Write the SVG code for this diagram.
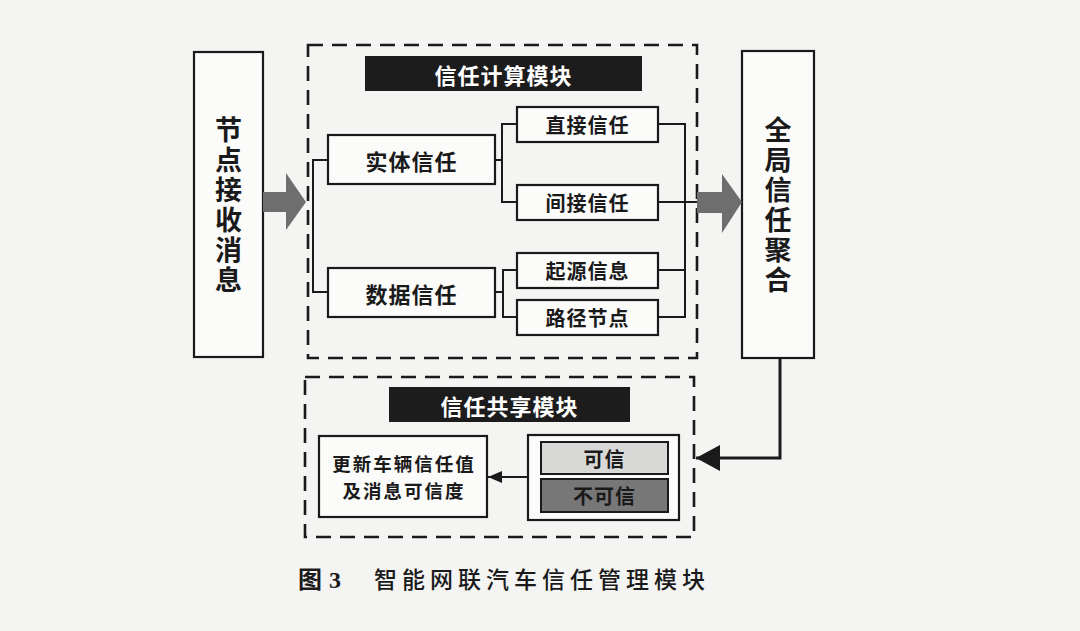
<svg xmlns="http://www.w3.org/2000/svg" width="1080" height="631" viewBox="0 0 1080 631">
<style>
.bg{fill:#f4f4f2}
.box{fill:#fbfbfa;stroke:#1a1a1a;stroke-width:2.2}
.dash{fill:none;stroke:#1a1a1a;stroke-width:2.6;stroke-dasharray:15 9}
.bar{fill:#1c1c1c}
.t{font-family:"Noto Sans CJK SC","Noto Sans",sans-serif;font-weight:700;fill:#1a1a1a;text-anchor:middle;dominant-baseline:central}
.tw{font-family:"Noto Sans CJK SC","Noto Sans",sans-serif;font-weight:700;fill:#ffffff;text-anchor:middle;dominant-baseline:central;font-size:22px;letter-spacing:1px}
.vert{font-family:"Noto Sans CJK SC","Noto Sans",sans-serif;font-weight:700;fill:#1a1a1a;text-anchor:middle;writing-mode:vertical-rl;font-size:27px;letter-spacing:3px}
.mid{font-size:22px;letter-spacing:1px}
.sm{font-size:20px;letter-spacing:1px}
.xs{font-size:18.5px;letter-spacing:2px}
.line{fill:none;stroke:#1a1a1a;stroke-width:2}
.garrow{fill:#6e6e6e}
</style>
<defs>
<marker id="bigHead" markerWidth="24" markerHeight="26" refX="24" refY="13" orient="auto" markerUnits="userSpaceOnUse" viewBox="0 0 24 26">
<path d="M0,0 L24,13 L0,26 Z" fill="#1a1a1a"/>
</marker>
<marker id="smHead" markerWidth="14" markerHeight="12" refX="14" refY="6" orient="auto" markerUnits="userSpaceOnUse" viewBox="0 0 14 12">
<path d="M0,0 L14,6 L0,12 Z" fill="#1a1a1a"/>
</marker>
</defs>
<rect class="bg" x="0" y="0" width="1080" height="631"/>

<g id="module-calc">
<rect class="dash" x="308" y="45" width="389" height="313"/>
<rect class="bar" x="365" y="56" width="277" height="35"/>
<text class="tw" x="503.5" y="73.5">信任计算模块</text>
</g>

<g id="module-share">
<rect class="dash" x="305" y="377" width="389" height="160"/>
<rect class="bar" x="389" y="387" width="241" height="35"/>
<text class="tw" x="509.5" y="404.5">信任共享模块</text>
</g>

<g id="node-receive">
<rect class="box" x="194" y="52" width="69" height="305"/>
<text class="vert" x="228.5" y="206">节点接收消息</text>
</g>

<g id="node-global">
<rect class="box" x="742" y="51" width="72" height="307"/>
<text class="vert" x="778" y="206">全局信任聚合</text>
</g>

<g id="node-entity">
<rect class="box" x="328" y="135" width="167" height="49"/>
<text class="t mid" x="411.5" y="159.5">实体信任</text>
</g>
<g id="node-data">
<rect class="box" x="328" y="268" width="167" height="49"/>
<text class="t mid" x="411.5" y="292.5">数据信任</text>
</g>
<g id="node-direct">
<rect class="box" x="517" y="107" width="141" height="35"/>
<text class="t sm" x="587.5" y="124.5">直接信任</text>
</g>
<g id="node-indirect">
<rect class="box" x="517" y="185" width="141" height="35"/>
<text class="t sm" x="587.5" y="202.5">间接信任</text>
</g>
<g id="node-origin">
<rect class="box" x="517" y="253" width="141" height="35"/>
<text class="t sm" x="587.5" y="270.5">起源信息</text>
</g>
<g id="node-path">
<rect class="box" x="517" y="300" width="141" height="35"/>
<text class="t sm" x="587.5" y="317.5">路径节点</text>
</g>

<g id="node-update">
<rect class="box" x="319" y="436" width="168" height="81"/>
<text class="t xs" x="404" y="463"><tspan x="404" y="463">更新车辆信任值</tspan><tspan x="404" y="490">及消息可信度</tspan></text>
</g>

<g id="node-result">
<rect class="box" x="528" y="435" width="151" height="85"/>
<rect x="541" y="442" width="127" height="32" fill="#d8d8d6" stroke="#1a1a1a" stroke-width="2"/>
<text class="t sm" x="604.5" y="458">可信</text>
<rect x="541" y="479" width="127" height="33" fill="#777777" stroke="#1a1a1a" stroke-width="2"/>
<text class="t sm" x="604.5" y="495.5">不可信</text>
</g>

<g id="connectors">
<path class="garrow" d="M263,192 H286 V173 L306,202 L286,230 V212 H263 Z"/>
<path class="garrow" d="M697,192 H722 V174 L742,202 L722,233 V213 H697 Z"/>
<path class="line" d="M328,160 H313 V292 H328"/>
<path class="line" d="M495,160 H502 M517,124 H502 V202 H517"/>
<path class="line" d="M495,292 H503 M517,270 H503 V317 H517"/>
<path class="line" d="M658,124 H685 V317 H658 M658,270 H685 M658,202 H697"/>
<path fill="none" stroke="#1a1a1a" stroke-width="3" d="M780,358 V458 H696" marker-end="url(#bigHead)"/>
<path class="line" d="M528,477 H488" marker-end="url(#smHead)"/>
</g>

<g id="caption">
<text x="298" y="588" font-family="'Noto Sans CJK SC',sans-serif" font-weight="700" font-size="24" fill="#1a1a1a">图</text>
<text x="329" y="588" font-family="'Liberation Serif',serif" font-weight="700" font-size="24" fill="#1a1a1a">3</text>
<text x="374" y="588" font-family="'Noto Sans CJK SC',sans-serif" font-weight="500" font-size="23" letter-spacing="5" fill="#1a1a1a">智能网联汽车信任管理模块</text>
</g>
</svg>
